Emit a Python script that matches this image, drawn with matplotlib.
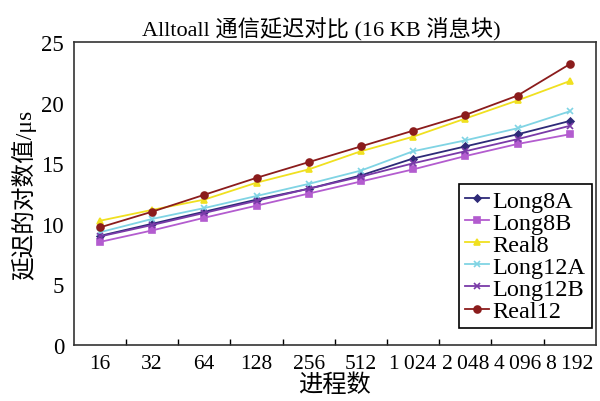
import matplotlib
matplotlib.use('Agg')
import matplotlib.pyplot as plt
import numpy as np

plt.rcParams['font.family'] = ['Liberation Serif', 'Noto Sans CJK SC', 'DejaVu Sans']

# process counts (categorical x axis)
procs = ['16', '32', '64', '128', '256', '512', '1\u2009024', '2\u2009048', '4\u2009096', '8\u2009192']

# log latency values, us
long8a = [9.0, 10.0, 11.0, 12.0, 12.9, 14.0, 15.4, 16.4, 17.4, 18.5]
long8b = [8.5, 9.45, 10.5, 11.5, 12.5, 13.5, 14.5, 15.6, 16.6, 17.4]
real8 = [10.25, 11.15, 12.0, 13.4, 14.5, 16.0, 17.2, 18.7, 20.2, 21.8]
long12a = [9.3, 10.4, 11.3, 12.3, 13.3, 14.4, 16.0, 16.9, 17.9, 19.3]
long12b = [8.95, 9.9, 10.9, 11.9, 12.9, 13.9, 15.0, 16.0, 17.0, 18.1]
real12 = [9.7, 11.0, 12.4, 13.8, 15.1, 16.4, 17.7, 19.0, 20.6, 23.2]

series = [
    ('Long8A', long8a, '#2e2a78', 'D', 3.5),
    ('Long8B', long8b, '#b35ccf', 's', 4.5),
    ('Real8', real8, '#f0e020', '^', 5),
    ('Long12A', long12a, '#80d4e4', 'x', 5),
    ('Long12B', long12b, '#7a3aa8', 'x', 5),
    ('Real12', real12, '#8b1c1c', 'o', 5),
]

fig = plt.figure(figsize=(6, 4.02), dpi=100)
ax = fig.add_axes([0.123, 0.14, 0.870, 0.752])

x = np.arange(len(procs))
for name, vals, color, mk, ms in series:
    ax.plot(x, vals, color=color, marker=mk, markersize=ms, linewidth=1.3,
            markeredgewidth=1.2, label=name)

ax.set_xlim(-0.5, len(procs) - 0.5)
ax.set_ylim(0, 25)
ax.set_yticks(range(0, 26, 5))
ax.set_xticks(x)
ax.set_xticklabels(procs)
ax.set_xticks(x[:-1] + 0.5, minor=True)
ax.tick_params(axis='x', which='major', length=0, labelsize=15.5, pad=7)
ax.tick_params(axis='x', which='minor', direction='in', length=4, width=1)
ax.tick_params(axis='y', length=0, labelsize=16.5, pad=7)
for sp in ax.spines.values():
    sp.set_linewidth(1.2)
    sp.set_color('#333333')

ax.set_title('Alltoall 通信延迟对比 (16 KB 消息块)', fontsize=16, pad=5, x=0.475)
ax.set_xlabel('进程数', fontsize=17.5, labelpad=0)
ax.set_ylabel('延迟的对数值/μs', fontsize=17, labelpad=4)

leg = ax.legend(loc='lower right', bbox_to_anchor=(0.992, 0.055), fontsize=17.5,
                frameon=True, fancybox=False, edgecolor='black', framealpha=1,
                handlelength=1.0, handletextpad=0.15, labelspacing=0.0,
                borderpad=0.25, borderaxespad=0)
leg.get_frame().set_linewidth(1.2)

fig.savefig('out.png', dpi=100)
